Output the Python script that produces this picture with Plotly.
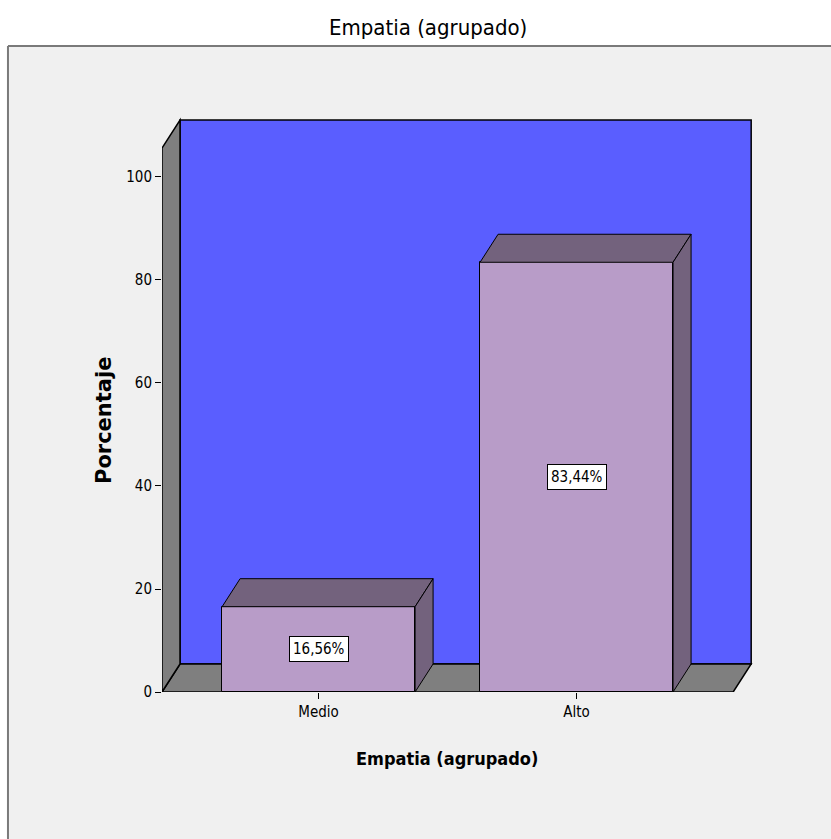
import plotly.graph_objects as go

# Data
categories = ["Medio", "Alto"]
percentages = [16.56, 83.44]
y_ticks = [0, 20, 40, 60, 80, 100]

title_text = "Empatia (agrupado)"
x_title = "Empatia (agrupado)"
y_title = "Porcentaje"

# Styling
FRONT = "#B89CC8"
SHADE = "#73627D"
WALL_BACK = "#5A5EFF"
WALL_GREY = "#7F7F7F"
BG = "#F0F0F0"
NARROW = "DejaVu Sans Condensed, Liberation Sans Narrow, Arial Narrow, Liberation Sans, Arial"
BOLD = "DejaVu Sans Condensed, Liberation Sans, Arial"
WIDE_BOLD = "DejaVu Sans, Liberation Sans, Arial"

bar_width = 0.748
depth_x = 0.0698      # depth offset in category units
depth_y = 5.44        # depth offset in value units
floor_left, floor_right = -0.607, 1.607
wall_top = 105.6
x_range = [floor_left, 1.6955]
y_range = [0, 111.84]

xs = list(range(len(categories)))

fig = go.Figure()
fig.add_trace(go.Bar(
    x=xs, y=percentages, width=bar_width,
    marker=dict(color=FRONT, line=dict(color="black", width=1)),
    hoverinfo="skip", showlegend=False,
))


def poly(points):
    return "M " + " L ".join(f"{px},{py}" for px, py in points) + " Z"


shapes = []
# panel background and frame
shapes.append(dict(type="rect", xref="paper", yref="paper", x0=-0.2593, x1=1.3,
                   y0=-0.4, y1=1.1215, fillcolor=BG, line=dict(width=0), layer="below"))
shapes.append(dict(type="line", xref="paper", yref="paper", x0=-0.2593, x1=1.3,
                   y0=1.1215, y1=1.1215, line=dict(color="#7A7A7A", width=2), layer="below"))
shapes.append(dict(type="line", xref="paper", yref="paper", x0=-0.2593, x1=-0.2593,
                   y0=-0.4, y1=1.1215, line=dict(color="#7A7A7A", width=2), layer="below"))

# back wall
shapes.append(dict(type="path", xref="x", yref="y", layer="below",
                   path=poly([(floor_left + depth_x, depth_y), (floor_left + depth_x, wall_top + depth_y),
                              (floor_right + depth_x, wall_top + depth_y), (floor_right + depth_x, depth_y)]),
                   fillcolor=WALL_BACK, line=dict(color="black", width=1.5)))
# floor
shapes.append(dict(type="path", xref="x", yref="y", layer="below",
                   path=poly([(floor_left, 0), (floor_left + depth_x, depth_y),
                              (floor_right + depth_x, depth_y), (floor_right, 0)]),
                   fillcolor=WALL_GREY, line=dict(color="black", width=1.5)))
# left wall
shapes.append(dict(type="path", xref="x", yref="y", layer="below",
                   path=poly([(floor_left, 0), (floor_left, wall_top),
                              (floor_left + depth_x, wall_top + depth_y), (floor_left + depth_x, depth_y)]),
                   fillcolor=WALL_GREY, line=dict(color="black", width=1.5)))

# 3-D top and side faces of each bar
for xi, v in zip(xs, percentages):
    x0, x1 = xi - bar_width / 2, xi + bar_width / 2
    shapes.append(dict(type="path", xref="x", yref="y", layer="above",
                       path=poly([(x0, v), (x0 + depth_x, v + depth_y),
                                  (x1 + depth_x, v + depth_y), (x1, v)]),
                       fillcolor=SHADE, line=dict(color="black", width=1)))
    shapes.append(dict(type="path", xref="x", yref="y", layer="above",
                       path=poly([(x1, 0), (x1 + depth_x, depth_y),
                                  (x1 + depth_x, v + depth_y), (x1, v)]),
                       fillcolor=SHADE, line=dict(color="black", width=1)))

annotations = []
for xi, v in zip(xs, percentages):
    annotations.append(dict(
        x=xi, y=v / 2, xref="x", yref="y", showarrow=False,
        text=f"{v:.2f}".replace(".", ",") + "%",
        font=dict(family=NARROW, size=15, color="black"),
        bgcolor="white", bordercolor="black", borderwidth=1, borderpad=3,
    ))

annotations.append(dict(x=(447 - 162) / 594, y=-(758 - 692) / 576, xref="paper", yref="paper",
                        text=f"<b>{x_title}</b>", showarrow=False, xanchor="center", yanchor="middle",
                        font=dict(family=BOLD, size=18, color="black")))
annotations.append(dict(x=-(162 - 104) / 594, y=(692 - 421) / 576, xref="paper", yref="paper",
                        text=f"<b>{y_title}</b>", showarrow=False, textangle=-90,
                        xanchor="center", yanchor="middle",
                        font=dict(family=WIDE_BOLD, size=21, color="black")))
annotations.append(dict(x=(428 - 162) / 594, y=(692 - 27) / 576, xref="paper", yref="paper",
                        text=title_text, showarrow=False, xanchor="center", yanchor="middle",
                        font=dict(family=NARROW, size=22, color="black")))

fig.update_layout(
    width=831, height=839,
    margin=dict(l=162, r=75, t=116, b=147, pad=0),
    paper_bgcolor="white", plot_bgcolor="rgba(0,0,0,0)",
    shapes=shapes, annotations=annotations,
    bargap=0,
    xaxis=dict(range=x_range, tickvals=xs, ticktext=categories, showgrid=False, zeroline=False,
               showline=False, ticks="outside", ticklen=6, tickcolor="black", tickwidth=1,
               tickfont=dict(family=NARROW, size=15, color="black"), fixedrange=True),
    yaxis=dict(range=y_range, tickvals=y_ticks, showgrid=False, zeroline=False, showline=False,
               ticks="outside", ticklen=6, tickcolor="black", tickwidth=1,
               tickfont=dict(family=NARROW, size=15, color="black"), fixedrange=True),
)

fig.write_html("out.html")
